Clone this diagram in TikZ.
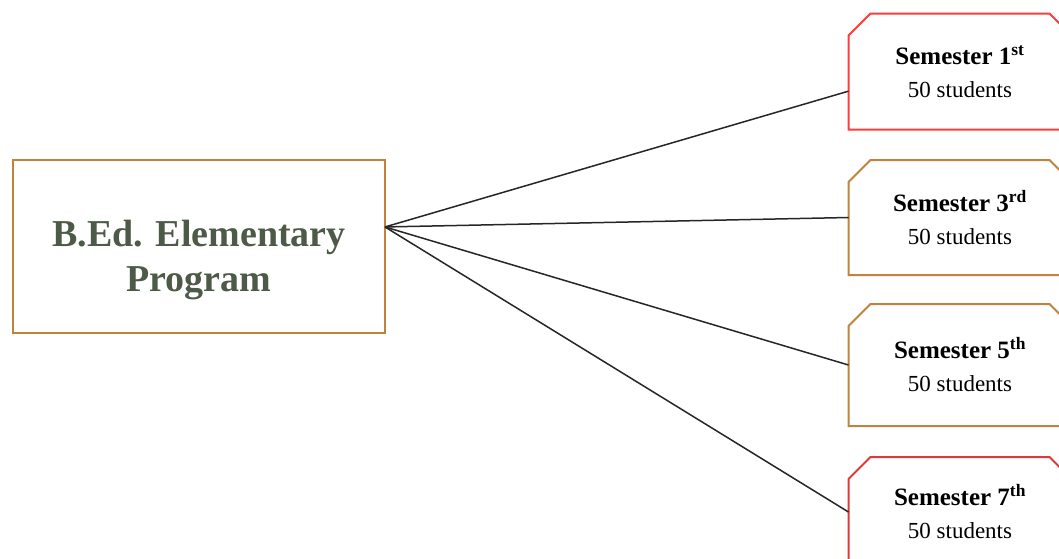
\documentclass[tikz,border=0pt]{standalone}
\usepackage{fontspec}
\setmainfont{Liberation Serif}
\usetikzlibrary{shapes.misc}
\definecolor{boxbrown}{HTML}{C0823C}
\definecolor{boxred}{HTML}{FF3B3B}
\definecolor{boxdarkred}{HTML}{E0393B}
\definecolor{progtext}{HTML}{4E5A48}
\newcommand{\semtext}[1]{{\bfseries\fontsize{25}{33}\selectfont Semester #1}\\50 students}
\begin{document}
\begin{tikzpicture}[x=1pt,y=-1pt,
	semester/.style={chamfered rectangle, chamfered rectangle corners={north west,north east},
		chamfered rectangle sep=11pt, minimum width=223pt, line width=2pt, align=center,
		inner sep=0pt, outer sep=0pt, font=\fontsize{23}{33}\selectfont},
	link/.style={line width=1.5pt, black!85}]
	\useasboundingbox (0,0) rectangle (1059,558);
	\clip (0,0) rectangle (1059,558);

	\node[draw=boxbrown, line width=2pt, minimum width=372pt, minimum height=173pt, align=center,
		inner sep=0pt, outer sep=0pt, text=progtext, font=\bfseries\fontsize{38}{45}\selectfont]
		(prog) at (199,246.5) {\rule{0pt}{54pt}B.Ed. Elementary\\Program};

	\node[semester, draw=boxred, minimum height=116pt] (s1) at (960,71.5) {\semtext{1\textsuperscript{st}}};
	\node[semester, draw=boxbrown, minimum height=115pt] (s3) at (960,217.5) {\semtext{3\textsuperscript{rd}}};
	\node[semester, draw=boxbrown, minimum height=122pt] (s5) at (960,365) {\semtext{5\textsuperscript{th}}};
	\node[semester, draw=boxdarkred, minimum height=110pt] (s7) at (960,512) {\semtext{7\textsuperscript{th}}};

	\coordinate (hub) at (prog.6.6);
	\draw[link] (hub) -- (s1.190.5);
	\draw[link] (hub) -- (s3.west);
	\draw[link] (hub) -- (s5.west);
	\draw[link] (hub) -- (s7.west);
\end{tikzpicture}
\end{document}
